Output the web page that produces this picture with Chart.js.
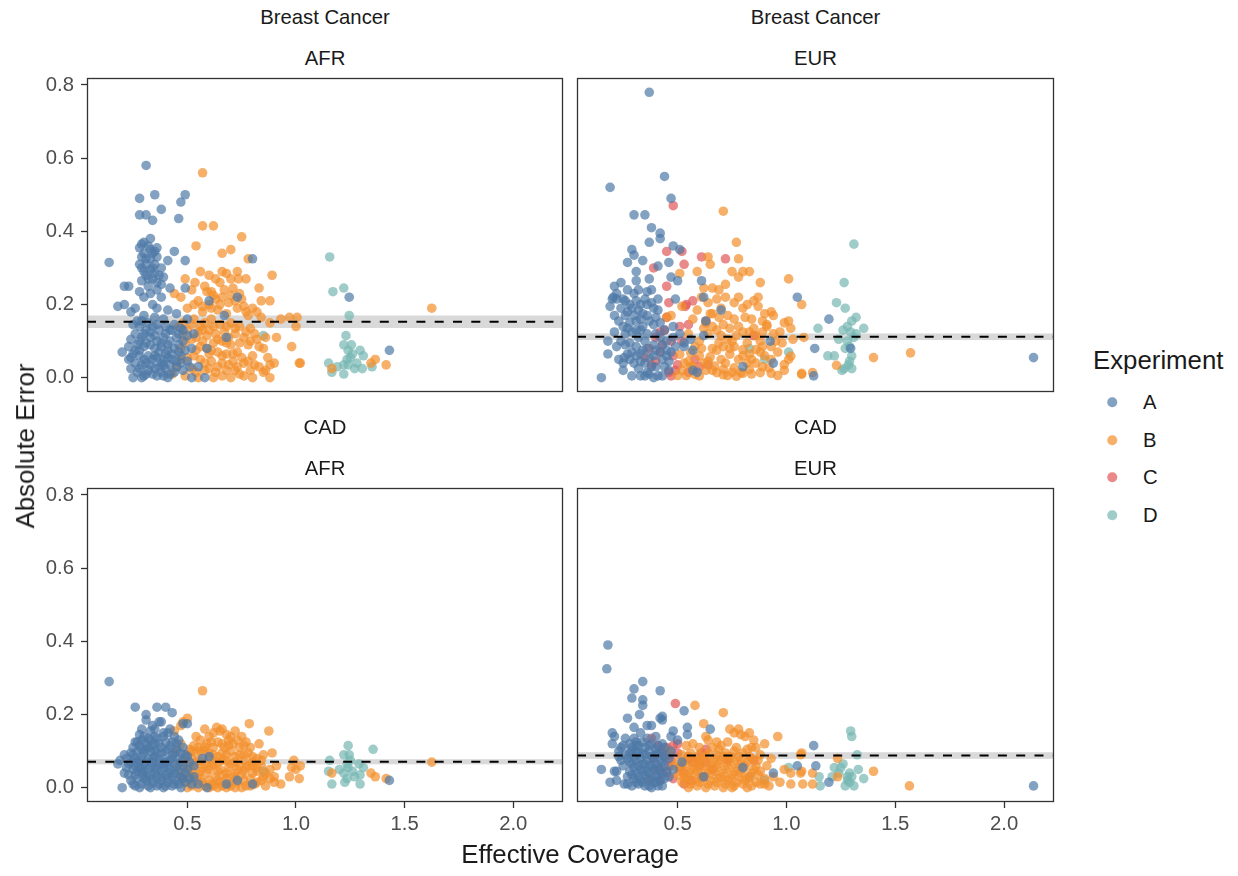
<!DOCTYPE html>
<html>
<head>
<meta charset="utf-8">
<script src="https://cdn.jsdelivr.net/npm/chart.js@4.4.1/dist/chart.umd.min.js"></script>
<style>
  html, body { margin: 0; padding: 0; background: #fff; }
  #wrap { position: relative; width: 1238px; height: 876px; overflow: hidden; font-family: "Liberation Sans", Arial, Helvetica, sans-serif; }
  canvas { position: absolute; }
  .txt { position: absolute; white-space: nowrap; color: #1a1a1a; transform: translate(-50%, -50%); line-height: 1; }
  .strip { font-size: 20.3px; }
  .axt { font-size: 25.8px; }
  .leg { position: absolute; white-space: nowrap; color: #1a1a1a; }
  .dot { position: absolute; width: 9.5px; height: 9.5px; border-radius: 50%; transform: translate(-50%, -50%); }
</style>
</head>
<body>
<div id="wrap"></div>
<script>
// ---------------- DATA ----------------
const experiments = ['A', 'B', 'C', 'D'];
const xTickValues = [0.5, 1.0, 1.5, 2.0];
const yTickValues = [0.0, 0.2, 0.4, 0.6, 0.8];
const diseases = ['Breast Cancer', 'Breast Cancer', 'CAD', 'CAD'];
const ancestries = ['AFR', 'EUR', 'AFR', 'EUR'];
const meanError = [0.153, 0.112, 0.071, 0.088];
const meanErrorBand = [0.017, 0.009, 0.007, 0.009];

// Breast Cancer / AFR
const bcAfrA = [[0.31,0.58],[0.28,0.49],[0.35,0.50],[0.49,0.50],[0.47,0.48],[0.28,0.445],[0.31,0.445],[0.38,0.46],[0.34,0.43],[0.46,0.435],[0.33,0.38],[0.44,0.345],[0.49,0.32],[0.14,0.315],[0.41,0.32],[0.80,0.325],
[0.30,0.37],[0.32,0.36],[0.28,0.355],[0.36,0.355],[0.30,0.34],[0.34,0.34],[0.29,0.33],[0.33,0.325],[0.36,0.33],[0.31,0.31],[0.35,0.31],[0.38,0.30],[0.29,0.30],[0.33,0.295],[0.37,0.28],[0.34,0.27],[0.31,0.28],[0.36,0.26],[0.39,0.275],[0.32,0.25],
[0.21,0.25],[0.23,0.25],[0.28,0.235],[0.42,0.245],[0.49,0.245],[0.36,0.24],[0.33,0.23],[0.30,0.22],[0.38,0.22],[0.18,0.195],[0.21,0.20],[0.24,0.18],[0.26,0.19],[0.34,0.20],[0.36,0.19],[0.41,0.185],[0.60,0.21],[0.73,0.22],[0.67,0.17],[0.30,0.17],[0.35,0.165],[0.45,0.175],[0.39,0.16],[0.27,0.155],[0.32,0.15],[0.50,0.16],
[0.28,0.14],[0.31,0.13],[0.34,0.14],[0.37,0.13],[0.40,0.14],[0.43,0.13],[0.46,0.12],[0.26,0.12],[0.29,0.11],[0.33,0.11],[0.36,0.10],[0.39,0.11],[0.42,0.10],[0.48,0.10],[0.27,0.09],[0.30,0.085],[0.35,0.08],[0.38,0.085],[0.41,0.075],[0.44,0.08],[0.52,0.08],[0.20,0.07],[0.25,0.065],[0.28,0.06],[0.32,0.06],[0.36,0.055],[0.39,0.05],[0.43,0.05],[0.47,0.06],[0.50,0.045],[0.26,0.04],[0.29,0.035],[0.33,0.035],[0.37,0.03],[0.40,0.025],[0.45,0.03],[0.48,0.02],[0.24,0.025],[0.27,0.015],[0.31,0.01],[0.34,0.01],[0.36,0.005],[0.39,0.005],[0.42,0.01],[0.52,0.0],[0.29,0.0],[0.59,0.08],[0.68,0.11],[0.58,0.0],[0.55,0.03],[0.46,0.09],[0.31,0.04],[0.35,0.025],[0.28,0.075],[0.23,0.05],[0.41,0.055],
[0.29,0.365],[0.33,0.35],[0.35,0.345],[0.31,0.325],[0.28,0.31],[0.34,0.30],[0.30,0.29],[0.35,0.285],[0.32,0.27],[0.29,0.265],[0.38,0.255],
[0.25,0.145],[0.29,0.155],[0.33,0.125],[0.36,0.145],[0.40,0.12],[0.44,0.145],[0.47,0.135],[0.24,0.105],[0.28,0.10],[0.31,0.095],[0.35,0.115],[0.38,0.095],[0.41,0.09],[0.45,0.11],[0.50,0.115],[0.53,0.12],[0.23,0.085],[0.26,0.075],[0.33,0.09],[0.37,0.07],[0.40,0.065],[0.43,0.065],[0.46,0.07],[0.49,0.075],[0.24,0.055],[0.30,0.05],[0.34,0.05],[0.38,0.04],[0.42,0.035],[0.45,0.045],[0.51,0.03],[0.28,0.025],[0.32,0.02],[0.38,0.015],[0.41,0.0],[0.44,0.015],[0.47,0.04],[0.30,0.005],[0.25,0.0],[0.35,0.06],[0.48,0.13],[0.30,0.12],[0.42,0.13],[0.39,0.035],
[1.245,0.22],[1.43,0.075]];
const bcAfrB = [[0.57,0.56],[0.57,0.415],[0.62,0.415],[0.75,0.385],[0.54,0.36],[0.66,0.34],[0.70,0.35],[0.78,0.325],[0.56,0.29],[0.68,0.285],[0.89,0.28],[0.49,0.27],[0.535,0.26],[0.735,0.27],[0.77,0.27],[0.83,0.245],[0.84,0.21],[0.88,0.21],[0.44,0.23],[0.93,0.16],[0.97,0.165],[1.005,0.165],[1.00,0.14],[0.98,0.085],[1.015,0.04],[0.91,0.11],[0.88,0.0],
[0.47,0.22],[0.52,0.24],[0.58,0.25],[0.61,0.235],[0.65,0.26],[0.67,0.24],[0.71,0.245],[0.74,0.23],[0.55,0.21],[0.60,0.20],[0.63,0.215],[0.69,0.205],[0.72,0.21],[0.76,0.195],[0.80,0.19],[0.50,0.19],[0.57,0.18],[0.64,0.185],[0.68,0.175],[0.78,0.17],[0.84,0.165],[0.88,0.15],
[0.48,0.15],[0.53,0.16],[0.58,0.15],[0.61,0.16],[0.65,0.145],[0.70,0.15],[0.74,0.14],[0.79,0.135],[0.50,0.13],[0.55,0.125],[0.60,0.13],[0.63,0.12],[0.67,0.125],[0.72,0.12],[0.76,0.11],[0.82,0.105],[0.52,0.105],[0.57,0.10],[0.62,0.095],[0.66,0.10],[0.70,0.09],[0.78,0.09],[0.85,0.08],[0.47,0.08],[0.54,0.075],[0.59,0.08],[0.64,0.07],[0.68,0.065],[0.73,0.07],[0.80,0.06],[0.87,0.055],[0.50,0.055],[0.56,0.05],[0.61,0.045],[0.66,0.04],[0.71,0.045],[0.76,0.04],[0.83,0.03],[0.88,0.035],[0.45,0.03],[0.52,0.025],[0.58,0.02],[0.63,0.015],[0.68,0.02],[0.74,0.01],[0.79,0.02],[0.85,0.015],[0.49,0.005],[0.55,0.0],[0.62,0.0],[0.70,0.0],[0.76,0.005],[0.43,0.01],[0.60,0.065],[0.69,0.11],[0.57,0.13],
[0.60,0.28],[0.63,0.27],[0.66,0.29],[0.70,0.27],[0.73,0.29],[0.59,0.235],[0.62,0.225],[0.66,0.22],[0.70,0.225],[0.75,0.215],[0.53,0.20],[0.57,0.195],[0.61,0.19],[0.65,0.2],[0.73,0.19],[0.77,0.18],[0.82,0.18],[0.46,0.14],[0.52,0.145],[0.56,0.14],[0.62,0.14],[0.68,0.14],[0.72,0.135],[0.77,0.125],[0.81,0.12],[0.86,0.11],[0.48,0.115],[0.54,0.11],[0.59,0.115],[0.64,0.105],[0.68,0.095],[0.74,0.095],[0.79,0.10],[0.83,0.085],[0.49,0.095],[0.56,0.085],[0.61,0.075],[0.66,0.06],[0.71,0.065],[0.75,0.055],[0.78,0.045],[0.53,0.06],[0.58,0.04],[0.64,0.03],[0.69,0.035],[0.73,0.03],[0.81,0.035],[0.86,0.02],[0.54,0.015],[0.60,0.025],[0.66,0.005],[0.72,0.02],[0.80,0.0],[0.47,0.05],[0.90,0.04],
[1.625,0.19],[1.365,0.05],[1.415,0.035],[1.345,0.04],[1.165,0.025],[1.02,0.04]];
const bcAfrC = [];
const bcAfrD = [[1.155,0.33],[1.17,0.235],[1.22,0.245],[1.245,0.17],[1.23,0.115],[1.22,0.09],[1.255,0.09],[1.24,0.075],[1.295,0.075],[1.31,0.06],[1.235,0.05],[1.22,0.035],[1.15,0.04],[1.24,0.035],[1.27,0.025],[1.305,0.025],[1.35,0.03],[1.22,0.01],[1.165,0.015],[0.85,0.115],[1.26,0.065],[1.28,0.04],[1.25,0.055],[1.19,0.03]];

// Breast Cancer / EUR
const bcEurA = [[0.37,0.78],[0.19,0.52],[0.44,0.55],[0.47,0.49],[0.30,0.445],[0.35,0.445],[0.38,0.41],[0.42,0.395],[0.42,0.38],[0.37,0.37],[0.48,0.36],[0.51,0.35],[0.29,0.35],[0.30,0.335],[0.34,0.32],[0.46,0.315],[0.41,0.305],[0.37,0.27],[0.31,0.265],[0.47,0.275],[0.50,0.265],[0.61,0.265],[0.21,0.25],[0.205,0.22],[0.20,0.215],[0.22,0.215],[0.19,0.195],[0.32,0.24],[0.36,0.235],[0.38,0.24],[0.28,0.20],[0.29,0.19],[0.33,0.20],[0.41,0.215],[0.36,0.20],[0.39,0.19],[0.41,0.185],[0.49,0.215],[0.62,0.22],[0.21,0.17],[0.26,0.17],[0.30,0.17],[0.33,0.16],[0.37,0.155],[0.34,0.14],[0.40,0.165],[0.42,0.15],[0.27,0.135],[0.31,0.13],[0.18,0.10],[0.24,0.10],[0.18,0.065],[0.23,0.05],[0.255,0.055],[0.15,0.0],[0.29,0.005],[0.35,0.005],[0.37,0.01],[0.41,0.005],[0.43,0.005],[0.31,0.085],[0.34,0.075],[0.36,0.08],[0.33,0.065],[0.35,0.04],[0.39,0.06],[0.42,0.07],[0.45,0.075],[0.38,0.03],[0.44,0.03],[0.28,0.05],[0.30,0.04],[0.47,0.07],[0.49,0.085],[0.53,0.085],[0.53,0.095],[0.56,0.105],[0.57,0.075],[0.57,0.02],[0.59,0.015],[0.70,0.185],[0.63,0.155],[0.62,0.115],[0.80,0.03],[0.925,0.10],[1.05,0.22],[1.13,0.08],[1.125,0.005],[0.94,0.04],[1.195,0.16],[1.295,0.08],[2.135,0.055],[0.26,0.12],[0.32,0.11],[0.40,0.12],[0.45,0.10],[0.35,0.10],[0.29,0.07],[0.46,0.045],[0.25,0.02],[0.39,0.09],[0.44,0.13],[0.48,0.14],[0.27,0.24],[0.24,0.26],[0.31,0.29],[0.27,0.315],
[0.22,0.23],[0.25,0.215],[0.31,0.21],[0.35,0.215],[0.24,0.19],[0.32,0.185],[0.38,0.205],[0.27,0.18],[0.23,0.155],[0.28,0.15],[0.31,0.155],[0.36,0.17],[0.39,0.145],[0.25,0.14],[0.29,0.125],[0.33,0.13],[0.36,0.12],[0.42,0.11],[0.21,0.125],[0.22,0.085],[0.26,0.09],[0.28,0.095],[0.31,0.06],[0.33,0.045],[0.37,0.055],[0.40,0.075],[0.43,0.09],[0.27,0.065],[0.25,0.04],[0.32,0.025],[0.36,0.015],[0.40,0.03],[0.43,0.05],[0.46,0.02],[0.33,0.005],[0.39,0.0],[0.45,0.06],[0.48,0.11],[0.51,0.12],[0.34,0.175],[0.30,0.23],[0.26,0.21]];
const bcEurB = [[0.71,0.455],[0.77,0.37],[0.78,0.325],[0.64,0.33],[0.65,0.31],[0.59,0.29],[0.51,0.285],[0.75,0.29],[0.78,0.275],[0.83,0.29],[0.80,0.29],[0.88,0.26],[1.01,0.27],[0.62,0.245],[0.66,0.245],[0.69,0.24],[0.72,0.255],[0.68,0.215],[0.72,0.22],[0.76,0.205],[0.80,0.19],[0.85,0.21],[0.87,0.22],[0.87,0.195],[0.90,0.175],[0.93,0.18],[0.94,0.17],[0.84,0.16],[0.89,0.155],[0.91,0.145],[0.91,0.14],[0.99,0.15],[1.01,0.155],[1.02,0.135],[1.07,0.20],[0.57,0.16],[0.63,0.15],[0.66,0.175],[0.65,0.175],[0.73,0.17],[0.45,0.165],[0.47,0.17],[0.52,0.195],[0.68,0.13],[0.74,0.135],[0.80,0.125],[0.83,0.125],[0.86,0.115],[0.70,0.115],[0.73,0.105],[0.77,0.115],[1.08,0.11],[0.66,0.08],[0.71,0.085],[0.76,0.085],[0.80,0.077],[0.86,0.077],[0.89,0.085],[0.93,0.085],[0.51,0.064],[0.56,0.068],[0.60,0.06],[0.65,0.057],[0.70,0.05],[0.74,0.064],[0.80,0.06],[0.84,0.05],[0.86,0.04],[0.93,0.05],[0.53,0.04],[0.57,0.032],[0.62,0.04],[0.67,0.032],[0.71,0.023],[0.76,0.027],[0.79,0.014],[0.83,0.023],[0.50,0.006],[0.54,0.006],[0.58,0.009],[0.68,0.014],[0.73,0.006],[0.77,0.004],[0.80,0.012],[0.88,0.014],[0.92,0.027],[0.96,0.006],[0.99,0.036],[1.01,0.05],[1.07,0.012],[1.12,0.014],[1.02,0.059],[1.40,0.055],[1.57,0.068],[1.23,0.034],[1.07,0.009],[0.60,0.10],[0.64,0.12],[0.69,0.095],[0.75,0.10],[0.82,0.095],[0.88,0.10],[0.55,0.12],[0.58,0.085],[0.63,0.02],[0.90,0.06],[0.95,0.10],
[0.61,0.22],[0.64,0.205],[0.70,0.19],[0.78,0.22],[0.82,0.20],[0.59,0.185],[0.69,0.165],[0.76,0.16],[0.81,0.165],[0.62,0.135],[0.66,0.14],[0.71,0.145],[0.78,0.14],[0.85,0.135],[0.89,0.125],[0.94,0.12],[0.97,0.125],[0.61,0.08],[0.68,0.075],[0.74,0.08],[0.83,0.065],[0.88,0.07],[0.96,0.07],[0.55,0.045],[0.64,0.045],[0.72,0.04],[0.78,0.05],[0.82,0.04],[0.89,0.03],[0.60,0.005],[0.66,0.02],[0.71,0.008],[0.75,0.015],[0.84,0.01],[0.93,0.012],[0.99,0.02],[0.52,0.02],[0.56,0.03],[0.98,0.095],[1.03,0.105]];
const bcEurC = [[0.48,0.47],[0.45,0.345],[0.52,0.345],[0.53,0.31],[0.39,0.30],[0.61,0.33],[0.72,0.325],[0.45,0.25],[0.46,0.205],[0.57,0.21],[0.54,0.20],[0.535,0.195],[0.45,0.165],[0.63,0.155],[0.51,0.14],[0.55,0.145],[0.42,0.125],[0.85,0.115],[0.43,0.09],[0.37,0.08],[0.40,0.045],[0.38,0.035],[0.46,0.015],[0.47,0.005],[0.49,0.02],[0.60,0.03],[0.64,0.035],[0.55,0.015],[0.40,0.11],[0.48,0.06],[0.52,0.10],[0.35,0.055],[0.44,0.13],[0.47,0.10],[0.42,0.07],[0.50,0.035],[0.58,0.05]];
const bcEurD = [[0.83,0.08],[0.90,0.05],[1.01,0.07],[1.145,0.135],[1.31,0.365],[1.265,0.26],[1.23,0.205],[1.27,0.19],[1.32,0.165],[1.30,0.155],[1.355,0.135],[1.26,0.13],[1.295,0.125],[1.32,0.12],[1.24,0.105],[1.28,0.10],[1.27,0.08],[1.29,0.085],[1.19,0.06],[1.22,0.06],[1.29,0.045],[1.285,0.035],[1.265,0.025],[1.30,0.025],[1.255,0.02],[1.30,0.06],[1.31,0.11],[1.28,0.14]];

// CAD / AFR
const cadAfrA = [[0.14,0.29],[0.26,0.22],[0.31,0.20],[0.31,0.185],[0.36,0.22],[0.40,0.22],[0.43,0.205],[0.37,0.18],[0.38,0.18],[0.35,0.16],[0.48,0.175],[0.50,0.175],[0.30,0.14],[0.27,0.125],[0.33,0.13],[0.36,0.135],[0.40,0.125],[0.46,0.13],[0.18,0.065],[0.21,0.04],[0.22,0.055],[0.20,0.0],[0.60,0.085],[0.59,0.0],[0.68,0.01],[0.73,0.02],[0.80,0.01],[0.55,0.01],[1.43,0.02],
[0.25,0.11],[0.28,0.115],[0.31,0.12],[0.34,0.115],[0.38,0.11],[0.42,0.115],[0.45,0.105],[0.24,0.095],[0.27,0.10],[0.30,0.095],[0.33,0.10],[0.36,0.095],[0.40,0.10],[0.43,0.09],[0.47,0.095],[0.26,0.08],[0.29,0.085],[0.32,0.08],[0.35,0.085],[0.39,0.08],[0.42,0.075],[0.46,0.08],[0.50,0.085],[0.23,0.065],[0.27,0.07],[0.30,0.065],[0.34,0.07],[0.37,0.065],[0.41,0.06],[0.44,0.065],[0.48,0.06],[0.25,0.05],[0.28,0.055],[0.32,0.05],[0.35,0.055],[0.38,0.045],[0.42,0.05],[0.46,0.045],[0.50,0.05],[0.26,0.035],[0.29,0.04],[0.33,0.035],[0.36,0.03],[0.40,0.035],[0.43,0.03],[0.47,0.03],[0.24,0.02],[0.27,0.025],[0.31,0.02],[0.34,0.015],[0.38,0.02],[0.41,0.015],[0.45,0.02],[0.49,0.015],[0.26,0.005],[0.29,0.01],[0.32,0.005],[0.36,0.005],[0.39,0.0],[0.43,0.005],[0.47,0.0],[0.52,0.01],[0.31,0.105],[0.37,0.12],[0.44,0.14],[0.28,0.145],[0.33,0.155],[0.41,0.15],[0.53,0.06],[0.53,0.03],[0.22,0.08],[0.57,0.08],[0.30,0.045],[0.39,0.065],[0.35,0.04],[0.44,0.04],
[0.26,0.125],[0.29,0.13],[0.32,0.135],[0.35,0.14],[0.39,0.14],[0.43,0.125],[0.25,0.09],[0.29,0.105],[0.32,0.11],[0.35,0.10],[0.38,0.095],[0.41,0.105],[0.44,0.095],[0.48,0.11],[0.24,0.07],[0.28,0.075],[0.31,0.07],[0.34,0.08],[0.37,0.075],[0.40,0.07],[0.43,0.08],[0.47,0.07],[0.26,0.06],[0.29,0.05],[0.33,0.06],[0.36,0.05],[0.39,0.055],[0.42,0.04],[0.45,0.055],[0.49,0.04],[0.23,0.035],[0.27,0.045],[0.31,0.03],[0.34,0.025],[0.38,0.03],[0.41,0.025],[0.44,0.01],[0.48,0.025],[0.51,0.025],[0.25,0.01],[0.28,0.0],[0.33,0.0],[0.37,0.01],[0.40,0.005],[0.46,0.01],[0.35,0.12],[0.39,0.15],[0.34,0.17],[0.42,0.16],[0.29,0.16],[0.45,0.12],[0.21,0.09],[0.49,0.09],[0.51,0.07],[0.19,0.075],[0.30,0.025]];
const cadAfrB = [[0.57,0.265],[0.50,0.19],[0.48,0.18],[0.47,0.17],[0.44,0.155],[0.635,0.165],[0.65,0.155],[0.60,0.14],[0.68,0.145],[0.72,0.155],[0.69,0.13],[0.73,0.13],[0.785,0.175],[0.875,0.155],[0.76,0.115],[0.67,0.11],[0.62,0.11],[0.55,0.11],[0.52,0.10],[0.89,0.095],[0.99,0.075],[0.98,0.055],[1.00,0.05],[0.97,0.03],[1.015,0.025],[0.82,0.08],[0.80,0.06],[0.84,0.06],[0.85,0.09],[0.90,0.03],[0.93,0.01],[1.625,0.07],[1.345,0.04],[1.365,0.03],[1.415,0.025],[1.165,0.04],[1.02,0.06],
[0.50,0.09],[0.54,0.095],[0.58,0.10],[0.62,0.09],[0.66,0.095],[0.70,0.10],[0.74,0.09],[0.78,0.095],[0.48,0.075],[0.52,0.08],[0.56,0.075],[0.60,0.08],[0.64,0.07],[0.68,0.075],[0.72,0.07],[0.76,0.075],[0.80,0.07],[0.49,0.055],[0.53,0.06],[0.57,0.055],[0.61,0.06],[0.65,0.05],[0.69,0.055],[0.73,0.05],[0.77,0.055],[0.82,0.045],[0.86,0.04],[0.47,0.035],[0.51,0.04],[0.55,0.035],[0.59,0.04],[0.63,0.03],[0.67,0.035],[0.71,0.03],[0.75,0.035],[0.79,0.025],[0.84,0.02],[0.88,0.025],[0.49,0.015],[0.53,0.02],[0.57,0.015],[0.61,0.01],[0.65,0.015],[0.69,0.01],[0.73,0.015],[0.77,0.005],[0.81,0.01],[0.86,0.005],[0.50,0.0],[0.55,0.0],[0.60,0.0],[0.64,0.0],[0.68,0.0],[0.72,0.0],[0.47,0.12],[0.56,0.13],[0.64,0.125],[0.71,0.12],[0.59,0.12],[0.54,0.14],[0.66,0.16],[0.75,0.14],[0.79,0.11],[0.83,0.12],[0.91,0.06],
[0.53,0.115],[0.58,0.11],[0.61,0.125],[0.66,0.12],[0.69,0.115],[0.74,0.11],[0.77,0.125],[0.51,0.105],[0.56,0.1],[0.60,0.095],[0.64,0.085],[0.68,0.09],[0.72,0.085],[0.76,0.09],[0.80,0.085],[0.84,0.075],[0.50,0.065],[0.54,0.07],[0.58,0.065],[0.62,0.065],[0.66,0.075],[0.70,0.065],[0.74,0.06],[0.78,0.06],[0.82,0.055],[0.88,0.05],[0.52,0.045],[0.56,0.045],[0.60,0.05],[0.64,0.045],[0.68,0.04],[0.72,0.04],[0.76,0.045],[0.80,0.04],[0.85,0.03],[0.48,0.025],[0.52,0.03],[0.56,0.025],[0.60,0.02],[0.64,0.02],[0.68,0.025],[0.72,0.025],[0.76,0.02],[0.82,0.015],[0.90,0.015],[0.52,0.005],[0.58,0.005],[0.62,0.005],[0.66,0.005],[0.70,0.005],[0.75,0.0],[0.79,0.005],[0.62,0.15],[0.70,0.14],[0.58,0.16],[0.45,0.10],[0.46,0.06]];
const cadAfrC = [];
const cadAfrD = [[1.24,0.115],[1.355,0.105],[1.22,0.09],[1.245,0.09],[1.155,0.075],[1.15,0.045],[1.235,0.065],[1.24,0.055],[1.29,0.065],[1.31,0.055],[1.22,0.04],[1.235,0.025],[1.295,0.035],[1.165,0.01],[1.225,0.015],[1.295,0.01],[0.85,0.045],[1.26,0.045],[1.27,0.03],[1.20,0.05],[1.25,0.075]];

// CAD / EUR
const cadEurA = [[0.18,0.39],[0.175,0.325],[0.34,0.29],[0.30,0.27],[0.29,0.245],[0.42,0.265],[0.34,0.24],[0.34,0.225],[0.325,0.20],[0.53,0.21],[0.27,0.19],[0.43,0.195],[0.43,0.185],[0.42,0.19],[0.36,0.17],[0.38,0.17],[0.30,0.165],[0.545,0.165],[0.545,0.145],[0.65,0.16],[0.20,0.15],[0.20,0.12],[0.21,0.14],[0.26,0.135],[0.30,0.135],[0.31,0.125],[0.25,0.115],[0.24,0.11],[0.48,0.155],[0.47,0.14],[0.50,0.13],[0.15,0.05],[0.21,0.045],[0.22,0.045],[0.19,0.015],[0.22,0.02],[0.255,0.01],[1.05,0.06],[1.125,0.115],[1.135,0.06],[0.94,0.04],[0.80,0.055],[1.195,0.015],[2.135,0.005],
[0.29,0.11],[0.32,0.115],[0.35,0.11],[0.38,0.12],[0.41,0.115],[0.44,0.11],[0.28,0.095],[0.31,0.10],[0.34,0.095],[0.37,0.10],[0.40,0.09],[0.43,0.095],[0.27,0.08],[0.30,0.085],[0.33,0.08],[0.36,0.075],[0.39,0.08],[0.42,0.075],[0.46,0.08],[0.29,0.065],[0.32,0.06],[0.35,0.065],[0.38,0.06],[0.41,0.055],[0.44,0.06],[0.28,0.045],[0.31,0.04],[0.34,0.045],[0.37,0.04],[0.40,0.035],[0.43,0.04],[0.30,0.025],[0.33,0.02],[0.36,0.025],[0.39,0.015],[0.42,0.02],[0.29,0.005],[0.32,0.01],[0.35,0.005],[0.38,0.0],[0.41,0.005],[0.46,0.03],[0.48,0.05],[0.25,0.06],[0.27,0.03],[0.36,0.135],[0.40,0.14],[0.33,0.15],[0.23,0.085],[0.52,0.07],[0.62,0.03],
[0.28,0.12],[0.31,0.115],[0.34,0.125],[0.37,0.115],[0.40,0.105],[0.43,0.12],[0.29,0.10],[0.32,0.095],[0.35,0.09],[0.38,0.085],[0.41,0.095],[0.44,0.085],[0.28,0.07],[0.31,0.075],[0.34,0.065],[0.37,0.06],[0.40,0.065],[0.43,0.07],[0.30,0.055],[0.33,0.05],[0.36,0.045],[0.39,0.05],[0.42,0.045],[0.29,0.035],[0.32,0.03],[0.35,0.035],[0.38,0.025],[0.41,0.03],[0.44,0.025],[0.31,0.015],[0.34,0.015],[0.37,0.005],[0.40,0.015],[0.43,0.005],[0.27,0.01],[0.45,0.045],[0.47,0.10],[0.26,0.09],[0.24,0.075],[0.23,0.10]];
const cadEurB = [[0.58,0.225],[0.71,0.205],[0.62,0.175],[0.74,0.16],[0.78,0.16],[0.76,0.15],[0.81,0.14],[0.83,0.15],[0.79,0.145],[0.96,0.14],[0.64,0.13],[0.68,0.125],[0.70,0.115],[0.90,0.12],[0.86,0.11],[0.84,0.11],[0.54,0.115],[1.065,0.09],[0.93,0.08],[0.87,0.075],[0.84,0.08],[0.78,0.085],[0.74,0.085],[0.99,0.05],[1.02,0.04],[1.065,0.04],[1.075,0.01],[1.12,0.01],[1.02,0.01],[0.97,0.015],[1.07,0.095],[1.07,0.045],[1.12,0.04],[1.235,0.08],[1.235,0.03],[1.40,0.045],[1.565,0.005],
[0.52,0.09],[0.56,0.095],[0.60,0.09],[0.64,0.095],[0.68,0.09],[0.72,0.095],[0.76,0.10],[0.80,0.095],[0.50,0.07],[0.54,0.075],[0.58,0.07],[0.62,0.075],[0.66,0.07],[0.70,0.075],[0.74,0.07],[0.78,0.065],[0.82,0.07],[0.86,0.06],[0.52,0.055],[0.56,0.05],[0.60,0.055],[0.64,0.05],[0.68,0.055],[0.72,0.05],[0.76,0.045],[0.80,0.05],[0.84,0.04],[0.88,0.045],[0.50,0.035],[0.54,0.03],[0.58,0.035],[0.62,0.03],[0.66,0.035],[0.70,0.03],[0.74,0.025],[0.78,0.03],[0.82,0.025],[0.90,0.025],[0.94,0.03],[0.52,0.015],[0.56,0.01],[0.60,0.015],[0.64,0.01],[0.68,0.015],[0.72,0.01],[0.76,0.005],[0.80,0.01],[0.84,0.005],[0.88,0.01],[0.92,0.005],[0.55,0.0],[0.63,0.0],[0.71,0.0],[0.48,0.06],[0.46,0.10],[0.57,0.12],[0.66,0.11],[0.73,0.125],[0.88,0.09],[0.91,0.06],
[0.55,0.085],[0.59,0.08],[0.63,0.085],[0.67,0.08],[0.71,0.085],[0.75,0.08],[0.79,0.075],[0.83,0.085],[0.53,0.065],[0.57,0.06],[0.61,0.065],[0.65,0.06],[0.69,0.065],[0.73,0.06],[0.77,0.055],[0.81,0.06],[0.85,0.05],[0.51,0.045],[0.55,0.04],[0.59,0.045],[0.63,0.04],[0.67,0.045],[0.71,0.04],[0.75,0.035],[0.79,0.04],[0.83,0.03],[0.87,0.035],[0.53,0.025],[0.57,0.02],[0.61,0.025],[0.65,0.02],[0.69,0.025],[0.73,0.02],[0.77,0.015],[0.81,0.02],[0.86,0.015],[0.90,0.01],[0.59,0.005],[0.67,0.005],[0.75,0.0],[0.82,0.0],[0.60,0.11],[0.69,0.105],[0.77,0.11],[0.82,0.105],[0.63,0.14],[0.85,0.13]];
const cadEurC = [[0.49,0.23],[0.38,0.135],[0.41,0.115],[0.45,0.11],[0.48,0.115],[0.50,0.12],[0.63,0.105],[0.61,0.095],[0.39,0.08],[0.44,0.085],[0.46,0.09],[0.59,0.08],[0.60,0.06],[0.73,0.075],[0.85,0.075],[0.46,0.06],[0.51,0.055],[0.45,0.04],[0.53,0.04],[0.61,0.03],[0.56,0.02],[0.53,0.01],[0.37,0.02],[0.42,0.02],[0.55,0.08],[0.40,0.05],[0.48,0.025],[0.66,0.05],[0.43,0.10],[0.47,0.075],[0.50,0.095],[0.42,0.05],[0.57,0.07],[0.63,0.07]];
const cadEurD = [[0.83,0.03],[0.90,0.02],[1.01,0.055],[1.15,0.03],[1.295,0.155],[1.30,0.14],[1.325,0.09],[1.22,0.055],[1.25,0.055],[1.24,0.04],[1.33,0.05],[1.355,0.025],[1.29,0.04],[1.28,0.03],[1.29,0.015],[1.27,0.005],[1.31,0.005],[1.155,0.005],[1.28,0.02],[1.26,0.065],[1.21,0.03],[1.30,0.03]];

// ---------------- STYLE / LAYOUT ----------------
const seriesColors = ['rgba(78,121,167,0.7)', 'rgba(242,142,43,0.7)', 'rgba(225,87,89,0.7)', 'rgba(118,183,178,0.7)'];
const FONT = '"Liberation Sans", Arial, Helvetica, sans-serif';
const panelData = [
  [bcAfrA, bcAfrB, bcAfrC, bcAfrD],
  [bcEurA, bcEurB, bcEurC, bcEurD],
  [cadAfrA, cadAfrB, cadAfrC, cadAfrD],
  [cadEurA, cadEurB, cadEurC, cadEurD]
];
const panelBoxes = [
  { left: 87, top: 78, w: 476, h: 314, showX: false, showY: true },
  { left: 577, top: 78, w: 477, h: 314, showX: false, showY: false },
  { left: 87, top: 488, w: 476, h: 314, showX: true, showY: true },
  { left: 577, top: 488, w: 477, h: 314, showX: true, showY: false }
];
const PADL = 70, PADT = 5, PADR = 5, PADB = 45;

const wrap = document.getElementById('wrap');

const refPlugin = {
  id: 'refPlugin',
  beforeDatasetsDraw(chart, args, opts) {
    const { ctx, chartArea: a, scales: { y } } = chart;
    const y1 = y.getPixelForValue(opts.mean + opts.band);
    const y2 = y.getPixelForValue(opts.mean - opts.band);
    ctx.save();
    ctx.fillStyle = '#D9D9D9';
    ctx.fillRect(a.left, y1, a.right - a.left, y2 - y1);
    ctx.restore();
  },
  afterDatasetsDraw(chart, args, opts) {
    const { ctx, chartArea: a, scales: { y } } = chart;
    const yy = y.getPixelForValue(opts.mean);
    ctx.save();
    ctx.strokeStyle = '#000';
    ctx.lineWidth = 2.2;
    ctx.setLineDash([9, 9.3]);
    ctx.beginPath();
    ctx.moveTo(a.left, yy);
    ctx.lineTo(a.right, yy);
    ctx.stroke();
    ctx.setLineDash([]);
    ctx.strokeStyle = '#333333';
    ctx.lineWidth = 1.3;
    ctx.strokeRect(a.left + 0.5, a.top + 0.5, a.right - a.left - 1, a.bottom - a.top - 1);
    ctx.restore();
  }
};

panelBoxes.forEach((box, i) => {
  const cv = document.createElement('canvas');
  const W = box.w + PADL + PADR, H = box.h + PADT + PADB;
  cv.width = W; cv.height = H;
  cv.style.left = (box.left - PADL) + 'px';
  cv.style.top = (box.top - PADT) + 'px';
  cv.style.width = W + 'px'; cv.style.height = H + 'px';
  wrap.appendChild(cv);

  const datasets = experiments.map((name, k) => ({
    label: name,
    data: panelData[i][k].map(p => ({ x: p[0], y: p[1] })),
    backgroundColor: seriesColors[k],
    borderWidth: 0,
    pointRadius: 4.8,
    pointHoverRadius: 4.8
  }));

  new Chart(cv, {
    type: 'scatter',
    data: { datasets },
    options: {
      responsive: false,
      animation: false,
      devicePixelRatio: 1,
      layout: { padding: { left: 0, top: PADT, right: PADR, bottom: 0 } },
      plugins: {
        legend: { display: false },
        tooltip: { enabled: false },
        refPlugin: { mean: meanError[i], band: meanErrorBand[i] }
      },
      scales: {
        x: {
          type: 'linear', min: 0.038, max: 2.229,
          afterBuildTicks: s => { s.ticks = xTickValues.map(v => ({ value: v })); },
          afterFit: s => { s.height = PADB; s.paddingLeft = 0; s.paddingRight = 0; },
          border: { display: false },
          grid: { display: box.showX, drawOnChartArea: false, drawTicks: box.showX, tickLength: 6, tickColor: '#333333', tickWidth: 1.3 },
          ticks: { display: box.showX, padding: 4, color: '#4D4D4D', font: { family: FONT, size: 20.3 }, maxRotation: 0, autoSkip: false,
                   callback: v => Number(v).toFixed(1) }
        },
        y: {
          type: 'linear', min: -0.039, max: 0.819,
          afterBuildTicks: s => { s.ticks = yTickValues.map(v => ({ value: v })); },
          afterFit: s => { s.width = PADL; s.paddingTop = 0; s.paddingBottom = 0; },
          border: { display: false },
          grid: { display: box.showY, drawOnChartArea: false, drawTicks: box.showY, tickLength: 6, tickColor: '#333333', tickWidth: 1.3 },
          ticks: { display: box.showY, padding: 7, color: '#4D4D4D', font: { family: FONT, size: 20.3 }, autoSkip: false,
                   callback: v => Number(v).toFixed(1) }
        }
      }
    },
    plugins: [refPlugin]
  });

  // strip labels
  const cx = box.left + box.w / 2;
  const s1 = document.createElement('div');
  s1.className = 'txt strip'; s1.textContent = diseases[i];
  s1.style.left = cx + 'px'; s1.style.top = (box.top - 61) + 'px';
  wrap.appendChild(s1);
  const s2 = document.createElement('div');
  s2.className = 'txt strip'; s2.textContent = ancestries[i];
  s2.style.left = cx + 'px'; s2.style.top = (box.top - 20) + 'px';
  wrap.appendChild(s2);
});

// axis titles
const xt = document.createElement('div');
xt.className = 'txt axt'; xt.textContent = 'Effective Coverage';
xt.style.left = '570px'; xt.style.top = '855px';
wrap.appendChild(xt);
const yt = document.createElement('div');
yt.className = 'txt axt'; yt.textContent = 'Absolute Error';
yt.style.left = '26px'; yt.style.top = '446px';
yt.style.transform = 'translate(-50%, -50%) rotate(-90deg)';
wrap.appendChild(yt);

// legend
const lt = document.createElement('div');
lt.className = 'leg'; lt.textContent = 'Experiment';
lt.style.left = '1093px'; lt.style.top = '345px'; lt.style.fontSize = '25.8px'; lt.style.lineHeight = '30px';
wrap.appendChild(lt);
const legY = [402, 440, 477, 515];
experiments.forEach((name, k) => {
  const d = document.createElement('div');
  d.className = 'dot'; d.style.left = '1112px'; d.style.top = legY[k] + 'px';
  d.style.background = seriesColors[k];
  wrap.appendChild(d);
  const l = document.createElement('div');
  l.className = 'leg'; l.textContent = name;
  l.style.left = '1143px'; l.style.top = (legY[k] - 12) + 'px';
  l.style.fontSize = '20.3px'; l.style.lineHeight = '24px';
  wrap.appendChild(l);
});
</script>
</body>
</html>
